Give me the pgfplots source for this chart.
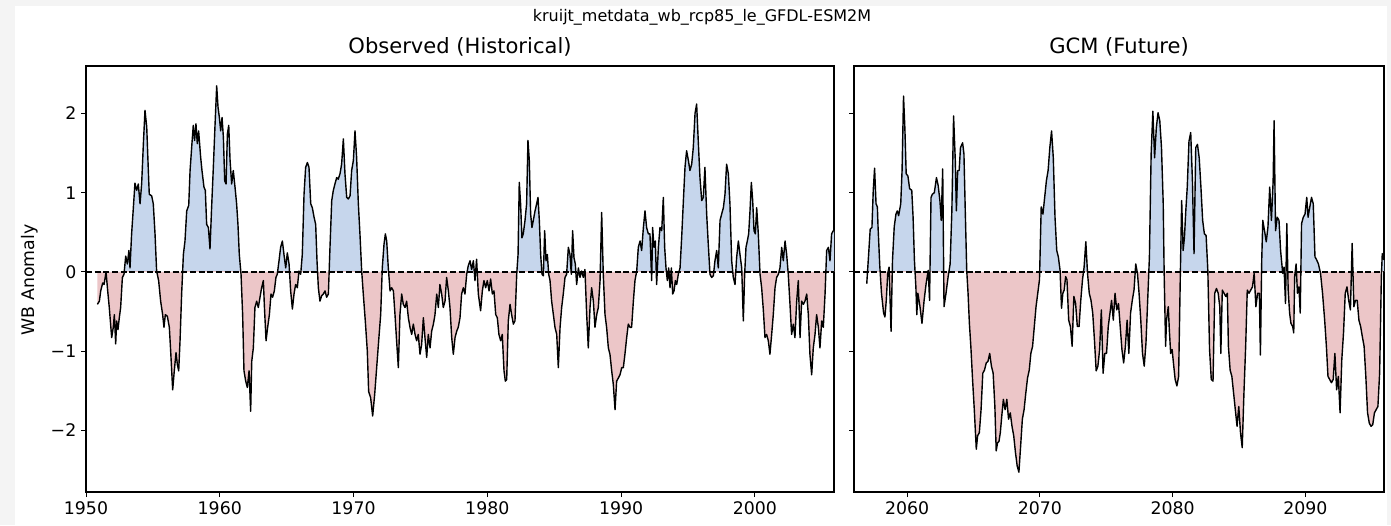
\documentclass[border=0pt]{standalone}
\usepackage{pgfplots}
\pgfplotsset{compat=1.18}
\usepackage{pgfplotstable}
\usepackage{fontspec}
\setmainfont{DejaVu Sans}

\definecolor{posblue}{RGB}{198,214,236}
\definecolor{negred}{RGB}{236,198,200}
\definecolor{framegray}{RGB}{244,244,244}

\pgfplotstableread{
year val
1950.85 -0.41
1951.00 -0.37
1951.10 -0.24
1951.25 -0.14
1951.35 -0.16
1951.50 0.00
1951.60 -0.20
1951.74 -0.45
1951.92 -0.83
1952.04 -0.70
1952.12 -0.54
1952.22 -0.91
1952.29 -0.62
1952.39 -0.73
1952.49 -0.58
1952.59 -0.45
1952.72 -0.07
1952.84 -0.03
1952.97 0.20
1953.09 0.10
1953.21 0.27
1953.29 0.05
1953.41 0.48
1953.54 0.81
1953.66 1.12
1953.79 1.03
1953.91 1.11
1954.04 0.86
1954.16 1.11
1954.29 1.62
1954.41 2.04
1954.54 1.83
1954.66 1.28
1954.73 0.98
1954.91 0.96
1955.03 0.86
1955.16 0.48
1955.28 0.01
1955.43 -0.11
1955.58 -0.37
1955.73 -0.54
1955.83 -0.70
1955.93 -0.54
1956.08 -0.56
1956.23 -0.70
1956.33 -1.00
1956.48 -1.49
1956.60 -1.25
1956.73 -1.02
1956.83 -1.17
1956.93 -1.25
1957.03 -0.87
1957.15 -0.28
1957.28 0.22
1957.40 0.39
1957.53 0.77
1957.68 0.84
1957.78 1.28
1957.92 1.62
1958.02 1.85
1958.12 1.66
1958.22 1.87
1958.32 1.62
1958.42 1.78
1958.57 1.45
1958.67 1.28
1958.82 1.07
1958.92 1.03
1959.02 0.60
1959.15 0.56
1959.27 0.29
1959.39 0.81
1959.52 1.32
1959.64 1.83
1959.77 2.35
1959.87 2.08
1959.97 1.95
1960.07 1.78
1960.17 1.95
1960.27 1.70
1960.37 1.15
1960.47 1.11
1960.57 1.74
1960.67 1.85
1960.77 1.41
1960.89 1.11
1961.01 1.28
1961.14 1.07
1961.26 0.86
1961.36 0.60
1961.46 0.22
1961.59 -0.03
1961.71 -0.54
1961.81 -1.25
1961.94 -1.38
1962.06 -1.46
1962.19 -1.25
1962.31 -1.76
1962.39 -1.13
1962.51 -0.96
1962.63 -0.45
1962.76 -0.37
1962.88 -0.45
1963.01 -0.32
1963.13 -0.20
1963.26 -0.11
1963.33 -0.41
1963.46 -0.87
1963.58 -0.70
1963.71 -0.54
1963.83 -0.28
1963.95 -0.32
1964.08 -0.24
1964.20 -0.07
1964.30 -0.03
1964.43 0.14
1964.55 0.31
1964.68 0.39
1964.80 0.22
1964.93 0.05
1965.05 0.24
1965.18 0.10
1965.30 -0.24
1965.43 -0.47
1965.55 -0.28
1965.67 -0.16
1965.80 -0.20
1965.92 0.01
1966.05 -0.03
1966.17 0.22
1966.30 0.98
1966.42 1.32
1966.55 1.38
1966.67 1.32
1966.80 0.86
1966.92 0.81
1967.05 0.69
1967.17 0.60
1967.27 0.14
1967.37 -0.20
1967.49 -0.37
1967.62 -0.30
1967.74 -0.28
1967.87 -0.24
1967.99 -0.32
1968.12 -0.28
1968.24 0.31
1968.37 0.90
1968.49 1.03
1968.61 1.11
1968.74 1.19
1968.86 1.17
1968.99 1.24
1969.11 1.36
1969.24 1.68
1969.36 1.24
1969.49 0.94
1969.61 0.92
1969.74 0.96
1969.86 1.28
1969.99 1.41
1970.11 1.78
1970.23 1.45
1970.36 0.86
1970.48 0.48
1970.61 0.01
1970.73 -0.28
1970.88 -0.62
1971.03 -1.00
1971.13 -1.51
1971.28 -1.59
1971.43 -1.82
1971.58 -1.55
1971.73 -1.21
1971.88 -0.87
1972.03 -0.54
1972.15 0.05
1972.28 0.35
1972.38 0.48
1972.48 0.39
1972.60 0.05
1972.73 -0.24
1972.85 -0.20
1972.98 -0.24
1973.10 -0.54
1973.22 -0.87
1973.35 -1.21
1973.47 -0.54
1973.60 -0.28
1973.72 -0.41
1973.85 -0.45
1973.97 -0.37
1974.10 -0.58
1974.22 -0.70
1974.35 -0.79
1974.47 -0.66
1974.60 -0.79
1974.72 -0.87
1974.84 -0.79
1974.97 -1.04
1975.09 -0.92
1975.22 -0.58
1975.34 -0.83
1975.47 -1.08
1975.59 -0.79
1975.72 -0.96
1975.84 -0.75
1975.97 -0.66
1976.09 -0.54
1976.22 -0.28
1976.34 -0.45
1976.46 -0.16
1976.59 -0.28
1976.71 -0.45
1976.84 -0.37
1976.96 -0.07
1977.09 -0.24
1977.21 -0.45
1977.34 -0.83
1977.46 -1.04
1977.59 -0.83
1977.71 -0.75
1977.83 -0.70
1977.96 -0.58
1978.08 -0.28
1978.21 -0.20
1978.33 -0.28
1978.46 -0.03
1978.58 0.08
1978.71 0.14
1978.83 0.03
1978.96 0.14
1979.08 -0.11
1979.20 0.16
1979.33 -0.28
1979.50 -0.49
1979.63 -0.24
1979.75 -0.11
1979.88 -0.20
1980.00 -0.11
1980.13 -0.24
1980.25 -0.09
1980.38 -0.28
1980.50 -0.24
1980.63 -0.54
1980.75 -0.58
1980.87 -0.79
1981.00 -0.87
1981.12 -0.79
1981.25 -1.25
1981.35 -1.38
1981.45 -1.36
1981.57 -0.62
1981.70 -0.41
1981.82 -0.54
1981.95 -0.66
1982.07 -0.62
1982.20 -0.03
1982.30 0.22
1982.39 1.13
1982.49 0.86
1982.59 0.43
1982.69 0.48
1982.82 0.65
1982.94 0.86
1983.04 1.66
1983.14 1.41
1983.24 0.73
1983.34 0.56
1983.44 0.65
1983.57 0.77
1983.69 0.86
1983.79 0.94
1983.89 0.65
1983.99 0.22
1984.09 -0.03
1984.19 -0.05
1984.29 0.52
1984.39 0.14
1984.49 0.22
1984.59 -0.03
1984.69 -0.11
1984.81 -0.37
1984.94 -0.54
1985.06 -0.70
1985.19 -0.79
1985.31 -1.21
1985.44 -0.70
1985.56 -0.45
1985.68 -0.28
1985.81 -0.07
1985.93 -0.03
1986.06 0.31
1986.18 0.22
1986.28 -0.03
1986.38 0.52
1986.48 0.18
1986.58 0.10
1986.68 -0.16
1986.81 0.05
1986.93 -0.07
1987.05 0.01
1987.18 -0.07
1987.30 0.03
1987.43 -0.54
1987.55 -0.96
1987.68 -0.45
1987.80 -0.20
1987.93 -0.37
1988.05 -0.70
1988.18 -0.54
1988.30 -0.45
1988.43 -0.11
1988.55 0.75
1988.67 -0.03
1988.80 -0.54
1988.92 -0.70
1989.05 -0.96
1989.17 -1.04
1989.30 -1.25
1989.42 -1.42
1989.55 -1.74
1989.67 -1.38
1989.80 -1.34
1989.92 -1.30
1990.05 -1.21
1990.17 -1.21
1990.29 -1.04
1990.42 -0.83
1990.54 -0.66
1990.67 -0.70
1990.79 -0.70
1990.92 -0.37
1991.04 -0.11
1991.17 0.01
1991.29 0.31
1991.42 0.39
1991.54 0.27
1991.67 0.56
1991.79 0.77
1991.91 0.56
1992.04 0.48
1992.16 0.48
1992.29 -0.11
1992.36 0.56
1992.46 0.31
1992.56 0.39
1992.66 -0.16
1992.79 0.31
1992.91 0.56
1993.04 0.52
1993.16 0.94
1993.26 0.31
1993.36 0.05
1993.46 -0.11
1993.56 0.05
1993.66 -0.20
1993.76 0.05
1993.86 -0.28
1993.96 -0.24
1994.06 -0.11
1994.16 -0.16
1994.28 -0.03
1994.41 0.05
1994.53 0.43
1994.66 0.90
1994.78 1.32
1994.90 1.53
1995.03 1.41
1995.15 1.28
1995.28 1.36
1995.40 1.57
1995.53 2.00
1995.65 2.12
1995.78 1.62
1995.90 1.19
1996.03 0.90
1996.15 0.94
1996.27 1.32
1996.40 0.73
1996.52 0.35
1996.65 -0.03
1996.77 -0.07
1996.90 -0.05
1997.02 0.14
1997.15 0.27
1997.27 0.05
1997.40 0.65
1997.52 0.73
1997.65 0.81
1997.77 0.98
1997.89 1.36
1998.02 1.24
1998.14 0.86
1998.27 0.14
1998.39 -0.07
1998.52 -0.16
1998.64 0.18
1998.77 0.39
1998.89 0.22
1999.02 0.05
1999.14 -0.62
1999.24 -0.03
1999.34 0.31
1999.44 0.39
1999.54 0.48
1999.64 0.77
1999.74 1.13
1999.84 0.90
1999.94 0.52
2000.04 0.48
2000.14 0.81
2000.26 0.48
2000.39 -0.03
2000.51 -0.20
2000.64 -0.49
2000.76 -0.83
2000.88 -0.79
2001.01 -0.87
2001.13 -1.04
2001.26 -0.79
2001.38 -0.54
2001.51 -0.20
2001.63 -0.07
2001.76 -0.03
2001.88 0.05
2002.01 0.31
2002.13 0.14
2002.26 0.39
2002.38 0.22
2002.50 -0.03
2002.63 -0.41
2002.75 -0.79
2002.88 -0.66
2003.00 -0.83
2003.13 -0.37
2003.25 -0.11
2003.38 -0.83
2003.50 -0.37
2003.63 -0.41
2003.75 -0.37
2003.88 -0.28
2004.00 -0.54
2004.12 -1.04
2004.25 -1.30
2004.37 -0.96
2004.50 -0.79
2004.62 -0.54
2004.75 -0.70
2004.87 -0.96
2005.00 -0.62
2005.12 -0.70
2005.25 -0.28
2005.37 0.27
2005.50 0.31
2005.62 0.14
2005.74 0.48
2005.87 0.52
2005.92 0.52
}\obs

% GCM (future) anomaly
\pgfplotstableread{
year val
2056.96 -0.15
2057.09 0.19
2057.22 0.54
2057.35 0.56
2057.45 1.03
2057.55 1.31
2057.66 0.86
2057.76 0.82
2057.81 0.57
2057.94 0.08
2058.07 -0.27
2058.23 -0.52
2058.33 -0.57
2058.43 -0.36
2058.54 -0.02
2058.64 0.06
2058.79 -0.75
2058.90 0.15
2059.03 0.57
2059.16 0.73
2059.26 0.77
2059.36 0.71
2059.52 0.86
2059.62 1.28
2059.73 2.22
2059.83 1.82
2059.93 1.24
2060.06 1.21
2060.19 1.05
2060.35 1.03
2060.45 0.69
2060.55 0.15
2060.66 -0.19
2060.73 -0.54
2060.81 -0.27
2060.97 -0.44
2061.12 -0.65
2061.28 -0.36
2061.43 -0.15
2061.59 0.02
2061.69 -0.36
2061.80 0.94
2061.90 0.98
2062.05 1.00
2062.21 1.19
2062.34 1.09
2062.47 0.90
2062.57 0.65
2062.68 1.30
2062.78 -0.44
2062.93 -0.27
2063.09 -0.06
2063.24 0.10
2063.37 0.77
2063.50 1.97
2063.63 1.40
2063.71 0.77
2063.81 1.28
2063.92 1.28
2064.02 1.57
2064.18 1.63
2064.28 1.49
2064.38 0.77
2064.49 0.02
2064.59 -0.27
2064.69 -0.65
2064.80 -0.94
2064.93 -1.36
2065.06 -1.74
2065.21 -2.24
2065.31 -2.07
2065.44 -2.03
2065.57 -1.74
2065.70 -1.28
2065.83 -1.24
2065.96 -1.15
2066.09 -1.13
2066.22 -1.03
2066.35 -1.19
2066.48 -1.28
2066.61 -1.70
2066.71 -2.26
2066.81 -2.16
2066.92 -2.14
2067.02 -2.03
2067.13 -1.82
2067.25 -1.61
2067.38 -1.74
2067.51 -1.61
2067.64 -1.86
2067.77 -1.78
2067.90 -1.95
2068.03 -2.07
2068.16 -2.28
2068.29 -2.45
2068.42 -2.53
2068.55 -2.20
2068.68 -1.86
2068.81 -1.74
2068.94 -1.53
2069.07 -1.34
2069.20 -1.24
2069.32 -1.03
2069.45 -0.94
2069.58 -0.69
2069.71 -0.44
2069.84 -0.27
2069.97 -0.10
2070.10 0.82
2070.23 0.73
2070.36 0.94
2070.49 1.15
2070.62 1.28
2070.75 1.57
2070.88 1.78
2071.01 1.44
2071.14 0.69
2071.27 0.27
2071.39 0.19
2071.52 0.02
2071.63 -0.46
2071.73 -0.27
2071.83 -0.23
2071.94 -0.06
2072.04 -0.10
2072.17 -0.61
2072.30 -0.69
2072.43 -0.94
2072.56 -0.31
2072.69 -0.40
2072.82 -0.69
2072.95 -0.69
2073.08 -0.36
2073.21 -0.10
2073.33 0.06
2073.46 0.38
2073.59 -0.02
2073.72 -0.27
2073.85 -0.36
2073.98 -0.52
2074.11 -0.86
2074.24 -1.25
2074.37 -1.19
2074.50 -0.98
2074.63 -0.48
2074.76 -1.28
2074.89 -1.03
2075.02 -1.03
2075.15 -0.69
2075.28 -0.52
2075.40 -0.36
2075.53 -0.61
2075.66 -0.27
2075.79 -0.48
2075.92 -0.40
2076.05 -0.69
2076.18 -0.98
2076.31 -1.15
2076.44 -0.94
2076.57 -0.61
2076.70 -1.03
2076.83 -0.52
2076.96 -0.36
2077.09 -0.23
2077.22 0.10
2077.35 -0.02
2077.47 -0.27
2077.60 -0.61
2077.73 -1.03
2077.86 -1.19
2077.99 -0.90
2078.12 -0.36
2078.25 0.19
2078.38 1.49
2078.51 2.03
2078.64 1.44
2078.77 1.82
2078.90 2.01
2079.03 1.91
2079.16 1.57
2079.29 0.86
2079.36 -0.02
2079.47 -0.94
2079.54 -0.61
2079.67 -0.44
2079.75 -0.73
2079.85 -1.03
2079.96 -0.98
2080.06 -1.15
2080.19 -1.36
2080.32 -1.44
2080.45 -1.32
2080.58 -0.02
2080.68 0.90
2080.79 0.27
2080.89 0.44
2080.99 0.77
2081.10 1.07
2081.23 1.65
2081.36 1.76
2081.49 1.15
2081.61 0.23
2081.74 1.57
2081.87 1.61
2082.00 1.44
2082.13 1.07
2082.26 0.65
2082.39 0.48
2082.52 0.46
2082.65 0.02
2082.78 -0.98
2082.91 -1.36
2083.04 -1.38
2083.17 -0.27
2083.30 -0.21
2083.43 -0.27
2083.55 -0.44
2083.63 -1.03
2083.74 -0.23
2083.87 -0.27
2084.00 -0.31
2084.12 -0.27
2084.20 -0.94
2084.33 -1.24
2084.46 -1.32
2084.59 -1.53
2084.72 -1.74
2084.85 -1.95
2084.98 -1.70
2085.11 -2.03
2085.24 -2.22
2085.37 -1.53
2085.50 -0.94
2085.62 -0.23
2085.75 -0.27
2085.88 -0.23
2086.01 -0.19
2086.14 -0.02
2086.27 -0.44
2086.40 -0.27
2086.53 -0.27
2086.61 -1.05
2086.71 0.15
2086.79 0.65
2086.92 0.52
2087.05 0.38
2087.18 0.57
2087.31 1.07
2087.44 0.65
2087.57 1.15
2087.64 1.91
2087.75 0.52
2087.88 0.69
2088.01 0.65
2088.13 0.27
2088.29 -0.02
2088.39 0.06
2088.50 -0.40
2088.60 0.61
2088.70 -0.23
2088.81 -0.52
2088.91 -0.65
2089.04 -0.69
2089.12 -0.77
2089.19 -0.06
2089.30 0.10
2089.40 -0.27
2089.51 -0.19
2089.61 -0.52
2089.71 0.61
2089.84 0.69
2089.97 0.73
2090.10 0.94
2090.20 0.69
2090.33 0.82
2090.46 0.94
2090.59 0.86
2090.72 0.19
2090.85 0.15
2090.98 0.10
2091.14 -0.02
2091.29 -0.27
2091.45 -0.61
2091.58 -0.94
2091.70 -1.32
2091.83 -1.36
2091.96 -1.40
2092.09 -1.36
2092.22 -1.03
2092.35 -1.49
2092.48 -1.32
2092.61 -1.78
2092.74 -1.11
2092.87 -0.77
2093.00 -0.27
2093.13 -0.19
2093.26 -0.36
2093.39 -0.48
2093.52 0.36
2093.65 -0.44
2093.77 -0.36
2093.90 -0.36
2094.03 -0.61
2094.16 -0.69
2094.29 -0.82
2094.42 -0.94
2094.55 -1.32
2094.68 -1.78
2094.81 -1.91
2094.94 -1.95
2095.07 -1.93
2095.20 -1.78
2095.33 -1.74
2095.46 -1.70
2095.59 -1.28
2095.72 -0.06
2095.79 0.23
2095.92 0.15
}\gcm

\pgfplotsset{
  wbpanel/.style={
    scale only axis,
    height=319.5pt,
    ymin=-2.78, ymax=2.6,
    ytick={-2,-1,0,1,2},
    tick align=outside,
    xtick pos=bottom, ytick pos=left,
    major tick length=3.75pt,
    tick style={black, line width=0.75pt},
    axis line style={black, line width=0.8pt},
    tick label style={font=\fontsize{13}{13}\selectfont, text=black},
    clip=true,
  },
  curve/.style={black, line width=1.05pt, no marks, line join=round},
  zeroline/.style={black, line width=1pt, dash pattern=on 4.5pt off 2pt, no marks},
}

\begin{document}
\begin{tikzpicture}
\fill[framegray] (0,0) rectangle (1043.25pt,393.75pt);
\fill[white] (11.25pt,0) rectangle (1040.25pt,389.25pt);

\begin{axis}[wbpanel,
  at={(64.5pt,24.75pt)}, anchor=south west,
  width=561pt,
  xmin=1950, xmax=2005.92,
  xtick={1950,1960,1970,1980,1990,2000},
  xticklabels={1950,1960,1970,1980,1990,2000},
  yticklabels={−2,−1,0,1,2},
]
\begin{scope}
\clip (axis cs:1950,0) rectangle (axis cs:2006,3);
\addplot[fill=posblue, draw=none, no marks] table[x=year, y=val] {\obs} \closedcycle;
\end{scope}
\begin{scope}
\clip (axis cs:1950,-3) rectangle (axis cs:2006,0);
\addplot[fill=negred, draw=none, no marks] table[x=year, y=val] {\obs} \closedcycle;
\end{scope}
\addplot[zeroline] coordinates {(1950,0) (2005.92,0)};
\addplot[curve] table[x=year, y=val] {\obs};
\end{axis}

\begin{axis}[wbpanel,
  at={(640.5pt,24.75pt)}, anchor=south west,
  width=397.5pt,
  xmin=2056, xmax=2095.92,
  xtick={2060,2070,2080,2090},
  xticklabels={2060,2070,2080,2090},
  yticklabels={},
]
\begin{scope}
\clip (axis cs:2056,0) rectangle (axis cs:2096,3);
\addplot[fill=posblue, draw=none, no marks] table[x=year, y=val] {\gcm} \closedcycle;
\end{scope}
\begin{scope}
\clip (axis cs:2056,-3) rectangle (axis cs:2096,0);
\addplot[fill=negred, draw=none, no marks] table[x=year, y=val] {\gcm} \closedcycle;
\end{scope}
\addplot[zeroline] coordinates {(2056,0) (2095.92,0)};
\addplot[curve] table[x=year, y=val] {\gcm};
\end{axis}

\node[font=\fontsize{12}{12}\selectfont] at (526.5pt,381pt) {kruijt\_metdata\_wb\_rcp85\_le\_GFDL-ESM2M};
\node[font=\fontsize{15.8}{15.8}\selectfont] at (345pt,358.5pt) {Observed (Historical)};
\node[font=\fontsize{15.8}{15.8}\selectfont] at (839.25pt,358.5pt) {GCM (Future)};
\node[font=\fontsize{13}{13}\selectfont, rotate=90] at (22.5pt,183.75pt) {WB Anomaly};

\pgfresetboundingbox
\path[use as bounding box] (0,0) rectangle (1043.25pt,393.75pt);
\end{tikzpicture}
\end{document}
